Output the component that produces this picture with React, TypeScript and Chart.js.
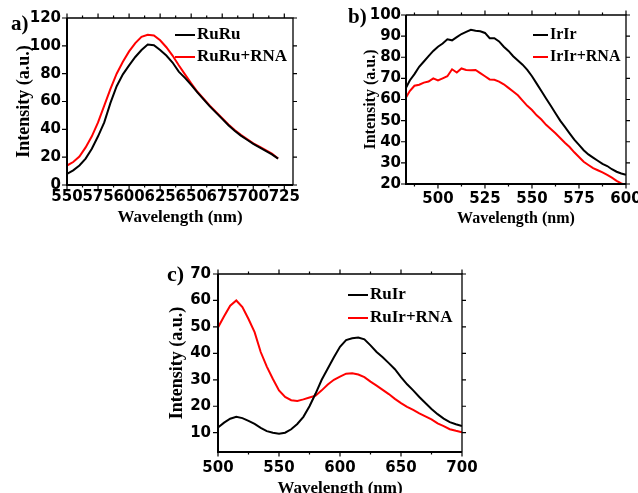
import React, { useEffect, useRef } from "react";
import { Chart, registerables } from "chart.js";
Chart.register(...registerables);

// ---------- Panel a ----------
const waveA = [550, 555, 560, 565, 570, 575, 580, 585, 590, 595, 600, 605, 610, 615, 620, 625, 630, 635, 640, 645, 650, 655, 660, 665, 670, 675, 680, 685, 690, 695, 700, 705, 710, 715, 720];
const ruRu = [8, 10.5, 14, 19, 26, 35, 45, 59, 71, 79.5, 86, 92, 97, 101, 100.5, 97, 93, 88, 81.5, 77, 72, 66.5, 61.5, 56.5, 52, 47.5, 43, 39, 35.5, 32.5, 29.5, 27, 24.5, 22, 19];
const ruRuRna = [14, 16.5, 20.5, 27, 35, 45, 57, 69, 80, 88.5, 96, 102, 106.5, 108, 107.5, 104, 99, 93, 86, 79.5, 73, 67, 62, 57, 52.5, 48, 43.5, 39.5, 36, 33, 30, 27.5, 25, 22.5, 19];
const ticksAX = [550, 575, 600, 625, 650, 675, 700, 725];
const ticksAY = [0, 20, 40, 60, 80, 100, 120];

// ---------- Panel b ----------
const waveB = [483, 485, 487.5, 490, 492.5, 495, 497.5, 500, 502.5, 505, 507.5, 510, 512.5, 515, 517.5, 520, 522.5, 525, 527.5, 530, 532.5, 535, 537.5, 540, 542.5, 545, 547.5, 550, 552.5, 555, 557.5, 560, 562.5, 565, 567.5, 570, 572.5, 575, 577.5, 580, 582.5, 585, 587.5, 590, 592.5, 595, 597.5, 600];
const irIr = [65.5, 69, 72, 75.5, 78, 80.5, 83, 85, 86.5, 88.5, 88, 89.5, 91, 92, 93, 92.5, 92.3, 91.5, 89, 89, 87.5, 85, 83, 80.5, 78.5, 76.5, 74, 71, 67.5, 64, 60.5, 57, 53.5, 50, 47, 44, 41, 38.5, 36, 34, 32.5, 31, 29.5, 28.5, 27, 25.8, 25, 24.3];
const irIrRna = [61, 64, 66.5, 67, 68, 68.5, 70, 69, 70, 71, 74.3, 72.8, 74.7, 74, 73.8, 74, 72.5, 71, 69.5, 69.3, 68.5, 67.2, 65.5, 63.8, 62, 59.5, 57, 55, 52.5, 50.5, 48, 46, 44, 41.8, 39.5, 37.5, 35, 32.8, 30.5, 29, 27.5, 26.5, 25.5, 24.3, 23, 21.5, 20.3, 19.5];
const ticksBX = [500, 525, 550, 575, 600];
const ticksBY = [20, 30, 40, 50, 60, 70, 80, 90, 100];

// ---------- Panel c ----------
const waveC = [500, 505, 510, 515, 520, 525, 530, 535, 540, 545, 550, 555, 560, 565, 570, 575, 580, 585, 590, 595, 600, 605, 610, 615, 620, 625, 630, 635, 640, 645, 650, 655, 660, 665, 670, 675, 680, 685, 690, 695, 700];
const ruIr = [12, 13.8, 15.3, 16, 15.5, 14.5, 13.3, 11.8, 10.6, 10, 9.6, 10, 11.3, 13.3, 16, 20, 24.8, 30, 34.3, 38.5, 42.5, 45, 45.7, 46, 45.3, 43, 40.5, 38.5, 36.3, 34, 31, 28.3, 26, 23.5, 21.2, 19, 17, 15.3, 14, 13.2, 12.5];
const ruIrRna = [49.8, 54, 58, 60, 57.5, 53, 48, 40.5, 35, 30.3, 26, 23.5, 22.3, 22, 22.6, 23.3, 24, 26, 28.2, 30, 31.2, 32.3, 32.5, 32, 31, 29.3, 27.8, 26.2, 24.6, 22.8, 21.2, 19.8, 18.6, 17.3, 16.2, 15, 13.5, 12.5, 11.3, 10.7, 10.2];
const ticksCX = [500, 550, 600, 650, 700];
const ticksCY = [10, 20, 30, 40, 50, 60, 70];

const SERIF = '"Liberation Serif", "Times New Roman", serif';
const SANS = '"DejaVu Sans", sans-serif';

const framePlugin = {
  id: "frameDecor",
  afterDraw(chart: any, _args: any, opts: any) {
    const ctx = chart.ctx;
    const { left, right, top, bottom } = chart.chartArea;
    const xs = chart.scales.x;
    const ys = chart.scales.y;
    ctx.save();
    ctx.strokeStyle = "#000";
    ctx.lineWidth = 1.2;
    const xMajor: number[] = opts.xMajor;
    const step = xMajor[1] - xMajor[0];
    const xMinor: number[] = [];
    for (let v = xMajor[0] - step / 2; v >= xs.min; v -= step) xMinor.push(v);
    for (let i = 0; i < xMajor.length - 1; i++) xMinor.push((xMajor[i] + xMajor[i + 1]) / 2);
    for (let v = xMajor[xMajor.length - 1] + step / 2; v <= xs.max; v += step) xMinor.push(v);
    const vline = (px: number, len: number) => {
      ctx.beginPath();
      ctx.moveTo(px, bottom);
      ctx.lineTo(px, bottom + len);
      ctx.moveTo(px, top);
      ctx.lineTo(px, top - len);
      ctx.stroke();
    };
    xMajor.forEach((v) => {
      const px = xs.getPixelForValue(v);
      if (px >= left - 1 && px <= right + 1) vline(px, 4.5);
    });
    xMinor.forEach((v) => {
      const px = xs.getPixelForValue(v);
      if (px >= left - 1 && px <= right + 1) vline(px, 2.5);
    });
    (opts.yMajor as number[]).forEach((v) => {
      const py = ys.getPixelForValue(v);
      if (py < top - 1 || py > bottom + 1) return;
      ctx.beginPath();
      ctx.moveTo(left, py);
      ctx.lineTo(left - 5, py);
      ctx.moveTo(right, py);
      ctx.lineTo(right + 4, py);
      ctx.stroke();
    });
    // frame
    ctx.lineWidth = 1.3;
    ctx.beginPath();
    ctx.moveTo(left, top);
    ctx.lineTo(right, top);
    ctx.lineTo(right, bottom);
    ctx.stroke();
    ctx.lineWidth = 2;
    ctx.beginPath();
    ctx.moveTo(left, top);
    ctx.lineTo(left, bottom);
    ctx.lineTo(right, bottom);
    ctx.stroke();
    // legend
    const lg = opts.legend;
    ctx.font = `bold ${lg.size}px ${SERIF}`;
    ctx.textBaseline = "middle";
    ctx.textAlign = "left";
    chart.data.datasets.forEach((ds: any, i: number) => {
      const y = lg.ys[i];
      ctx.strokeStyle = ds.borderColor;
      ctx.lineWidth = 2;
      ctx.beginPath();
      ctx.moveTo(lg.x0, y);
      ctx.lineTo(lg.x1, y);
      ctx.stroke();
      ctx.fillStyle = "#000";
      ctx.fillText(ds.label, lg.tx, y);
    });
    // panel letter
    const pl = opts.panel;
    ctx.font = `bold ${pl.size}px ${SERIF}`;
    ctx.fillStyle = "#000";
    ctx.fillText(pl.text, pl.x, pl.y);
    ctx.restore();
  },
};

type Panel = {
  width: number;
  height: number;
  wave: number[];
  s1: number[];
  s2: number[];
  l1: string;
  l2: string;
  xMin: number;
  xMax: number;
  yMin: number;
  yMax: number;
  xTicks: number[];
  yTicks: number[];
  pad: { left: number; top: number; right: number; bottom: number };
  yAxisW: number;
  xAxisH: number;
  yTitleSize: number;
  yTitlePad: number;
  xTitleSize: number;
  xTitlePad: number;
  xTickPad: number;
  yTickPad: number;
  legend: any;
  panel: any;
};

function makeConfig(p: Panel): any {
  return {
    type: "line",
    data: {
      datasets: [
        {
          label: p.l1,
          data: p.wave.map((x, i) => ({ x, y: p.s1[i] })),
          borderColor: "#000000",
          borderWidth: 2,
          pointRadius: 0,
          tension: 0,
          fill: false,
        },
        {
          label: p.l2,
          data: p.wave.map((x, i) => ({ x, y: p.s2[i] })),
          borderColor: "#ff0000",
          borderWidth: 2,
          pointRadius: 0,
          tension: 0,
          fill: false,
        },
      ],
    },
    options: {
      responsive: false,
      animation: false,
      devicePixelRatio: 1,
      layout: { padding: p.pad },
      plugins: {
        legend: { display: false },
        tooltip: { enabled: false },
        frameDecor: { xMajor: p.xTicks, yMajor: p.yTicks, legend: p.legend, panel: p.panel },
      },
      scales: {
        x: {
          type: "linear",
          min: p.xMin,
          max: p.xMax,
          grid: { display: false, drawTicks: false },
          border: { display: false },
          afterBuildTicks: (s: any) => {
            s.ticks = p.xTicks.map((v) => ({ value: v }));
          },
          afterFit: (s: any) => {
            s.height = p.xAxisH;
            s.paddingLeft = 0;
            s.paddingRight = 0;
          },
          ticks: {
            autoSkip: false,
            maxRotation: 0,
            padding: p.xTickPad,
            color: "#000",
            font: { family: SANS, size: 15, weight: "bold" },
          },
          title: {
            display: true,
            text: "Wavelength (nm)",
            color: "#000",
            font: { family: SERIF, size: p.xTitleSize, weight: "bold" },
            padding: { top: 0, bottom: p.xTitlePad },
          },
        },
        y: {
          type: "linear",
          min: p.yMin,
          max: p.yMax,
          grid: { display: false, drawTicks: false },
          border: { display: false },
          afterBuildTicks: (s: any) => {
            s.ticks = p.yTicks.map((v) => ({ value: v }));
          },
          afterFit: (s: any) => {
            s.width = p.yAxisW;
            s.paddingTop = 0;
            s.paddingBottom = 0;
          },
          ticks: {
            autoSkip: false,
            padding: p.yTickPad,
            color: "#000",
            font: { family: SANS, size: 15, weight: "bold" },
          },
          title: {
            display: true,
            text: "Intensity (a.u.)",
            color: "#000",
            font: { family: SERIF, size: p.yTitleSize, weight: "bold" },
            padding: { top: p.yTitlePad, bottom: 0 },
          },
        },
      },
    },
    plugins: [framePlugin],
  };
}

const panelA: Panel = {
  width: 320, height: 240, wave: waveA, s1: ruRu, s2: ruRuRna, l1: "RuRu", l2: "RuRu+RNA",
  xMin: 550, xMax: 732, yMin: 0, yMax: 120, xTicks: ticksAX, yTicks: ticksAY,
  pad: { left: 0, top: 18, right: 27, bottom: 0 }, yAxisW: 67, xAxisH: 55,
  yTitleSize: 18, yTitlePad: 14, xTitleSize: 17, xTitlePad: 12, xTickPad: 3, yTickPad: 6,
  legend: { size: 17, x0: 175, x1: 195, tx: 197, ys: [35, 57] },
  panel: { text: "a)", size: 21, x: 11, y: 25 },
};

const panelB: Panel = {
  width: 318, height: 240, wave: waveB, s1: irIr, s2: irIrRna, l1: "IrIr", l2: "IrIr+RNA",
  xMin: 483, xMax: 600, yMin: 20, yMax: 100, xTicks: ticksBX, yTicks: ticksBY,
  pad: { left: 0, top: 15, right: 12, bottom: 0 }, yAxisW: 86, xAxisH: 56,
  yTitleSize: 16, yTitlePad: 41, xTitleSize: 16, xTitlePad: 12, xTickPad: 6, yTickPad: 5,
  legend: { size: 16, x0: 213, x1: 228, tx: 230, ys: [35, 57] },
  panel: { text: "b)", size: 21, x: 28, y: 18 },
};

const panelC: Panel = {
  width: 330, height: 260, wave: waveC, s1: ruIr, s2: ruIrRna, l1: "RuIr", l2: "RuIr+RNA",
  xMin: 500, xMax: 700, yMin: 2.7, yMax: 70, xTicks: ticksCX, yTicks: ticksCY,
  pad: { left: 0, top: 24, right: 18, bottom: 0 }, yAxisW: 68, xAxisH: 58,
  yTitleSize: 18, yTitlePad: 17, xTitleSize: 17, xTitlePad: 11, xTickPad: 7, yTickPad: 7,
  legend: { size: 17, x0: 198, x1: 218, tx: 220, ys: [45, 68] },
  panel: { text: "c)", size: 22, x: 17, y: 25 },
};

function ChartCanvas({ p, left, top }: { p: Panel; left: number; top: number }) {
  const ref = useRef<HTMLCanvasElement | null>(null);
  useEffect(() => {
    if (!ref.current) return;
    const chart = new Chart(ref.current, makeConfig(p));
    return () => chart.destroy();
  }, [p]);
  return (
    <canvas
      ref={ref}
      width={p.width}
      height={p.height}
      style={{ position: "absolute", left, top, width: p.width, height: p.height }}
    />
  );
}

export default function App() {
  return (
    <div
      style={{
        position: "fixed",
        left: 0,
        top: 0,
        width: 638,
        height: 493,
        overflow: "hidden",
        background: "#fff",
      }}
    >
      <ChartCanvas p={panelA} left={0} top={0} />
      <ChartCanvas p={panelB} left={320} top={0} />
      <ChartCanvas p={panelC} left={150} top={250} />
    </div>
  );
}
